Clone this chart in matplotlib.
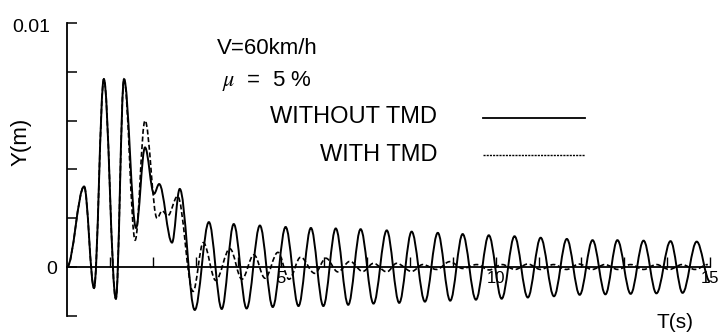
import matplotlib
matplotlib.use("Agg")
import matplotlib.pyplot as plt
from matplotlib.path import Path
from matplotlib.patches import PathPatch
from matplotlib.lines import Line2D
from matplotlib.transforms import ScaledTranslation

plt.rcParams['font.family'] = ['Liberation Sans', 'DejaVu Sans']
plt.rcParams['mathtext.fontset'] = 'stix'

# ---------------- data (extrema of each curve) ----------------
t_without = [0.00, 0.40, 0.63, 0.86, 1.14, 1.33, 1.61, 1.82, 2.03, 2.15, 2.45, 2.63,
             2.98, 3.31, 3.61, 3.89, 4.19, 4.50, 4.80, 5.10, 5.40, 5.69, 5.98, 6.27,
             6.56, 6.85, 7.15, 7.46, 7.75, 8.04, 8.35, 8.65, 8.94, 9.23, 9.54, 9.84,
             10.14, 10.44, 10.75, 11.05, 11.36, 11.66, 11.96, 12.26, 12.56, 12.84,
             13.15, 13.45, 13.75, 14.08, 14.36, 14.69, 15.00]
y_without = [0.0, 0.0033, -0.00086, 0.0077, -0.0013, 0.0077, 0.0016, 0.0049, 0.0030,
             0.0034, 0.0010, 0.0032, -0.00176, 0.00184, -0.00172, 0.00176, -0.0017,
             0.0017, -0.00164, 0.00164, -0.0016, 0.0016, -0.0016, 0.00158, -0.00155,
             0.00155, -0.0015, 0.0015, -0.00147, 0.00145, -0.00142, 0.0014, -0.00138,
             0.00135, -0.00134, 0.0013, -0.0013, 0.00126, -0.00125, 0.0012, -0.0012,
             0.00115, -0.00114, 0.0011, -0.00112, 0.0011, -0.0011, 0.00108, -0.00108,
             0.00106, -0.00106, 0.00104, -0.0006]

t_with = [0.00, 0.40, 0.63, 0.86, 1.14, 1.33, 1.59, 1.82, 2.10, 2.22, 2.35, 2.58,
          2.94, 3.18, 3.47, 3.80, 4.08, 4.36, 4.62, 4.92, 5.18, 5.45, 5.78, 6.04,
          6.32, 6.60, 6.90, 7.15, 7.46, 7.69, 8.04, 8.30, 8.62, 8.93, 9.23, 9.56,
          9.85, 10.15, 10.45, 10.75, 11.05, 11.35, 11.65, 11.95, 12.25, 12.55,
          12.85, 13.15, 13.45, 13.75, 14.05, 14.35, 14.65, 14.95]
y_with = [0.0, 0.0033, -0.00086, 0.0077, -0.0013, 0.0077, 0.0011, 0.0060, 0.0020,
          0.0023, 0.0021, 0.0029, -0.0010, 0.0010, -0.00055, 0.00075, -0.0005,
          0.0005, -0.00046, 0.0006, -0.0005, 0.0004, -0.00026, 0.00036, -0.0002,
          0.00023, -0.00018, 0.00015, -0.0002, 0.00015, -0.00018, 0.0001, -0.0001,
          0.00022, -0.00006, 0.0001, -0.00012, 0.0001, -0.0001, 0.00012, -0.0001,
          0.0001, -0.0001, 0.00012, -0.0001, 0.0001, -0.0001, 0.0001, -0.0001,
          0.0001, -0.0001, 0.0001, -0.0001, 0.0001]

series_labels = ['WITHOUT TMD', 'WITH TMD']
annotation_lines = ['V=60km/h', r'$\mu$  =  5 %']
y_ticks = [-0.002, 0.0, 0.002, 0.004, 0.006, 0.008, 0.01]
y_tick_labels = ['', '0', '', '', '', '', '0.01']
x_major_ticks = [5, 10, 15]
x_major_labels = ['5', '10', '15']
x_minor_ticks = list(range(1, 16))
x_label = 'T(s)'
y_label = 'Y(m)'


def smooth_path(ts, ys, k=0.36):
    """Bezier path through the read extrema (horizontal tangent at each)."""
    verts = [(ts[0], ys[0])]
    codes = [Path.MOVETO]
    for i in range(len(ts) - 1):
        dt = ts[i + 1] - ts[i]
        verts += [(ts[i] + k * dt, ys[i]), (ts[i + 1] - k * dt, ys[i + 1]),
                  (ts[i + 1], ys[i + 1])]
        codes += [Path.CURVE4] * 3
    return Path(verts, codes)


W, H = 722, 334
fig = plt.figure(figsize=(W / 100, H / 100), dpi=100)
fig.patch.set_facecolor('white')

x0, x1 = 67, 710
ytop, ybot = 23, 315.8
ax = fig.add_axes([x0 / W, (H - ybot) / H, (x1 - x0) / W, (ybot - ytop) / H])
ax.set_xlim(0, 15)
ax.set_ylim(-0.002, 0.01)
ax.patch.set_alpha(0)

dash_style = (0, (3.0, 1.6))
ax.add_patch(PathPatch(smooth_path(t_with, y_with), fill=False, edgecolor='black',
                       linewidth=1.2, linestyle=dash_style, zorder=2))
ax.add_patch(PathPatch(smooth_path(t_without, y_without), fill=False, edgecolor='black',
                       linewidth=1.4, zorder=3))

for s in ['top', 'right']:
    ax.spines[s].set_visible(False)
ax.spines['bottom'].set_position(('data', 0))
ax.spines['left'].set_linewidth(1.3)
ax.spines['bottom'].set_linewidth(1.3)

ax.set_yticks(y_ticks)
ax.set_yticklabels(y_tick_labels)
ax.tick_params(axis='y', direction='in', length=7, width=1.1, pad=7, labelsize=14)
for lab in ax.get_yticklabels():
    if lab.get_text() == '0.01':
        lab.set_transform(lab.get_transform() +
                          ScaledTranslation(-0.07, -0.025, fig.dpi_scale_trans))

ax.set_xticks(x_major_ticks)
ax.set_xticklabels(x_major_labels)
ax.set_xticks(x_minor_ticks, minor=True)
ax.tick_params(axis='x', which='both', direction='in', length=7, width=1.0,
               pad=3, labelsize=12)

fig.text(21 / W, 1 - 142 / H, y_label, rotation=90, ha='center', va='center', fontsize=16)
fig.text(675 / W, 1 - 322 / H, x_label, ha='center', va='center', fontsize=15)

fig.text(217 / W, 1 - 49 / H, annotation_lines[0], ha='left', va='center', fontsize=16)
fig.text(222 / W, 1 - 81 / H, annotation_lines[1], ha='left', va='center', fontsize=16)

fig.text(437 / W, 1 - 117 / H, series_labels[0], ha='right', va='center', fontsize=17)
fig.text(437 / W, 1 - 155 / H, series_labels[1], ha='right', va='center', fontsize=17)
fig.add_artist(Line2D([483 / W, 585 / W], [1 - 118 / H, 1 - 118 / H],
                      transform=fig.transFigure, color='black', linewidth=1.3))
fig.add_artist(Line2D([483 / W, 585 / W], [1 - 155 / H, 1 - 155 / H],
                      transform=fig.transFigure, color='black', linewidth=1.0,
                      linestyle=(0, (1.5, 0.8))))

fig.savefig('out.png', dpi=100)
